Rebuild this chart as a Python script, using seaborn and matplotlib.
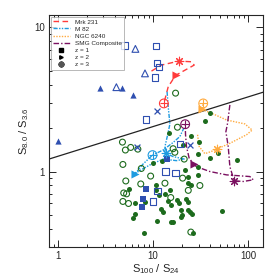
import numpy as np
import pandas as pd
import matplotlib
matplotlib.use("Agg")
import matplotlib.pyplot as plt
import seaborn as sns
from matplotlib.lines import Line2D

# ---------------- data ----------------
blue_open_sq_x = [5.0, 10.8, 11.0, 11.6, 10.5, 8.4, 19.1, 13.5, 17.2, 11.1, 9.9]
blue_open_sq_y = [7.5, 7.4, 5.7, 5.3, 4.5, 2.3, 1.55, 1.0, 0.98, 0.73, 0.62]
blue_fill_sq_x = [14.0, 8.5, 7.85, 7.7]
blue_fill_sq_y = [1.23, 0.755, 0.64, 0.57]
blue_open_tri_x = [6.5, 8.2, 4.1]
blue_open_tri_y = [7.1, 4.8, 3.85]
blue_fill_tri_x = [2.75, 4.75, 6.2, 1.0]
blue_fill_tri_y = [3.8, 3.8, 3.4, 1.64]
blue_x_x = [11.1, 6.8, 24.3]
blue_x_y = [2.63, 1.49, 1.52]

green_open_x = [17.2, 18.0, 4.75, 5.8, 5.1, 6.9, 4.8, 7.5, 9.4, 5.15, 7.4, 13.3,
                4.9, 5.25, 4.8, 5.5, 15.3, 23.4, 20.4, 31.0, 16.2, 16.9, 21.2, 24.9]
green_open_y = [3.5, 2.03, 1.6, 1.47, 1.41, 1.43, 1.12, 1.05, 0.93, 0.86, 0.82, 0.83,
                0.71, 0.70, 0.62, 0.60, 0.66, 0.74, 0.90, 0.80, 1.44, 1.36, 1.22, 0.38]
green_fill_x = [14.6, 40.0, 35.0, 25.3, 20.7, 30.5, 29.8, 39.5, 48.3, 77.0, 29.3, 52.8,
                10.0, 12.4, 5.5, 8.2, 6.4, 6.5, 6.2, 11.1, 8.0, 10.8, 21.5, 23.4,
                29.8, 23.4, 24.9, 10.6, 15.0, 13.3, 11.5, 14.2, 15.3, 18.0, 18.6,
                22.4, 23.4, 12.2, 12.7, 19.6, 23.4, 24.3, 25.7, 19.9, 19.6, 15.3,
                16.0, 26.4]
green_fill_y = [1.84, 2.56, 2.24, 1.76, 1.53, 1.61, 1.33, 1.24, 1.34, 1.20, 1.08, 0.53,
                1.15, 1.19, 0.76, 0.61, 0.60, 0.51, 0.475, 0.455, 0.374, 0.75, 1.02, 0.92,
                0.95, 0.83, 0.81, 0.80, 0.74, 0.70, 0.69, 0.62, 0.59, 0.63, 0.60,
                0.64, 0.61, 0.55, 0.52, 0.54, 0.54, 0.52, 0.51, 0.50, 0.48, 0.446,
                0.443, 0.374]

# template redshift tracks
mrk231_x = [9.6, 12.2, 18.6, 25.3, 27.0, 22.4, 17.2, 14.4, 12.95]
mrk231_y = [4.98, 5.48, 5.84, 5.78, 5.48, 5.12, 4.65, 3.88, 2.97]
mrk231_z = [18.6, 17.2, 12.95]          # x at z=1,2,3
mrk231_zy = [5.84, 4.65, 2.97]

m82_x = [14.0, 14.5, 15.0, 14.2, 13.3, 13.5, 16.2, 21.2, 17.6, 12.7, 9.2, 7.24, 6.41,
         7.85, 9.84, 12.7, 16.2, 19.1, 21.0]
m82_y = [3.58, 2.67, 2.14, 1.80, 1.49, 1.34, 1.27, 1.22, 1.19, 1.22, 1.11, 1.016, 0.963,
         1.13, 1.30, 1.41, 1.59, 1.75, 2.0]
m82_z = [13.5, 6.41, 9.84]
m82_zy = [1.34, 0.963, 1.30]

ngc_x = [29.3, 30.5, 35.0, 41.1, 46.4, 64.1, 96.0, 110.0, 92.2, 59.1, 42.8, 32.3, 33.6]
ngc_y = [1.80, 1.49, 1.33, 1.38, 1.43, 1.57, 1.80, 1.94, 2.14, 2.28, 2.51, 2.70, 2.97]
ngc_z = [46.4, 32.3, 33.6]
ngc_zy = [1.43, 2.70, 2.97]

smg_x = [64.1, 60.6, 58.2, 61.6, 64.1, 71.2, 88.6, 113.0, 104.0, 59.1, 39.5, 28.6,
         26.8, 23.9, 22.4, 21.9, 21.7]
smg_y = [2.90, 2.16, 1.89, 1.49, 1.08, 0.862, 0.853, 0.876, 0.923, 0.948, 1.0, 1.08,
         1.12, 1.24, 1.49, 1.80, 2.13]
smg_z = [71.2, 26.8, 21.7]
smg_zy = [0.862, 1.12, 2.13]

divider_x = [0.8, 143.0]
divider_y = [1.22, 3.55]

track_names = ["Mrk 231", "M 82", "NGC 6240", "SMG Composite"]
z_labels = ["z = 1", "z = 2", "z = 3"]

# ---------------- style ----------------
sns.set_style("ticks")
plt.rcParams["font.family"] = ["Liberation Sans", "DejaVu Sans"]
plt.rcParams["mathtext.fontset"] = "custom"
plt.rcParams["mathtext.rm"] = "Liberation Sans"
plt.rcParams["mathtext.it"] = "Liberation Sans"

fig = plt.figure(figsize=(2.78, 2.78), dpi=100)
ax = fig.add_axes([0.176, 0.112, 0.770, 0.834])

BLUE = "#2f4fb0"
GREEN = "#1d6b1d"
C_MRK = "#ff3b3b"
C_M82 = "#1e9be0"
C_NGC = "#ffab40"
C_SMG = "#7a1060"

# divider line
sns.lineplot(x=divider_x, y=divider_y, ax=ax, color="#222222", lw=0.9, sort=False,
             estimator=None)

# tracks
tracks = [(mrk231_x, mrk231_y, mrk231_z, mrk231_zy, C_MRK, (0, (4, 2.5))),
          (m82_x, m82_y, m82_z, m82_zy, C_M82, (0, (3, 1, 1, 1, 1, 1))),
          (ngc_x, ngc_y, ngc_z, ngc_zy, C_NGC, (0, (1, 1))),
          (smg_x, smg_y, smg_z, smg_zy, C_SMG, (0, (4, 1.5, 1, 1.5)))]
for tx, ty, zx, zy, c, ls in tracks:
    df = pd.DataFrame({"x": tx, "y": ty})
    sns.lineplot(data=df, x="x", y="y", ax=ax, color=c, lw=1.0, sort=False,
                 estimator=None, linestyle=ls)
    # z = 1 asterisk, z = 2 triangle, z = 3 circle-plus
    sns.scatterplot(x=[zx[0]], y=[zy[0]], ax=ax, marker=(8, 2, 0), s=38, color=c,
                    linewidth=0.8, edgecolor=c, zorder=5)
    sns.scatterplot(x=[zx[1]], y=[zy[1]], ax=ax, marker=">", s=34, color=c,
                    linewidth=0, zorder=5)
    sns.scatterplot(x=[zx[2]], y=[zy[2]], ax=ax, marker="o", s=40, facecolor="none",
                    edgecolor=c, linewidth=0.8, zorder=5)
    sns.scatterplot(x=[zx[2]], y=[zy[2]], ax=ax, marker="+", s=40, color=c,
                    linewidth=0.8, zorder=5)

# data points
sns.scatterplot(x=green_fill_x, y=green_fill_y, ax=ax, marker="o", s=13, color=GREEN,
                linewidth=0, zorder=3)
sns.scatterplot(x=green_open_x, y=green_open_y, ax=ax, marker="o", s=18,
                facecolor="none", edgecolor=GREEN, linewidth=0.8, zorder=3)
sns.scatterplot(x=blue_open_sq_x, y=blue_open_sq_y, ax=ax, marker="s", s=20,
                facecolor="none", edgecolor=BLUE, linewidth=0.8, zorder=4)
sns.scatterplot(x=blue_fill_sq_x, y=blue_fill_sq_y, ax=ax, marker="s", s=16,
                color=BLUE, linewidth=0, zorder=4)
sns.scatterplot(x=blue_open_tri_x, y=blue_open_tri_y, ax=ax, marker="^", s=24,
                facecolor="none", edgecolor=BLUE, linewidth=0.8, zorder=4)
sns.scatterplot(x=blue_fill_tri_x, y=blue_fill_tri_y, ax=ax, marker="^", s=20,
                color=BLUE, linewidth=0, zorder=4)
sns.scatterplot(x=blue_x_x, y=blue_x_y, ax=ax, marker="x", s=18, color=BLUE,
                linewidth=0.9, zorder=4)

ax.set_xscale("log")
ax.set_yscale("log")
ax.set_xlim(0.8, 143)
ax.set_ylim(0.30, 12.2)
ax.set_xticks([1, 10, 100])
ax.set_xticklabels(["1", "10", "100"])
ax.set_yticks([1, 10])
ax.set_yticklabels(["1", "10"])
ax.tick_params(which="both", direction="in", top=True, right=True, labelsize=7,
               width=0.7, pad=3)
ax.tick_params(which="major", length=5)
ax.tick_params(which="minor", length=2.5)
for sp in ax.spines.values():
    sp.set_linewidth(0.8)
ax.set_xlabel(r"S$_{100}$ / S$_{24}$", fontsize=8, labelpad=1)
ax.set_ylabel(r"S$_{8.0}$ / S$_{3.6}$", fontsize=8, labelpad=2)

handles = [Line2D([], [], color=C_MRK, lw=1.0, ls=(0, (4, 2.5))),
           Line2D([], [], color=C_M82, lw=1.0, ls=(0, (3, 1, 1, 1, 1, 1))),
           Line2D([], [], color=C_NGC, lw=1.0, ls=(0, (1, 1))),
           Line2D([], [], color=C_SMG, lw=1.0, ls=(0, (4, 1.5, 1, 1.5))),
           Line2D([], [], color="black", ls="none", marker="s", ms=2.8),
           Line2D([], [], color="black", ls="none", marker=">", ms=2.5),
           Line2D([], [], color="#555555", ls="none", marker="$\\oplus$", ms=3.5)]
leg = ax.legend(handles, track_names + z_labels, loc="upper left", fontsize=4.6,
                frameon=True, fancybox=False, edgecolor="#999999", handlelength=2.6,
                borderpad=0.4, labelspacing=0.25, handletextpad=0.8,
                borderaxespad=0.25)
leg.get_frame().set_linewidth(0.6)

fig.savefig("out.png", dpi=100)
